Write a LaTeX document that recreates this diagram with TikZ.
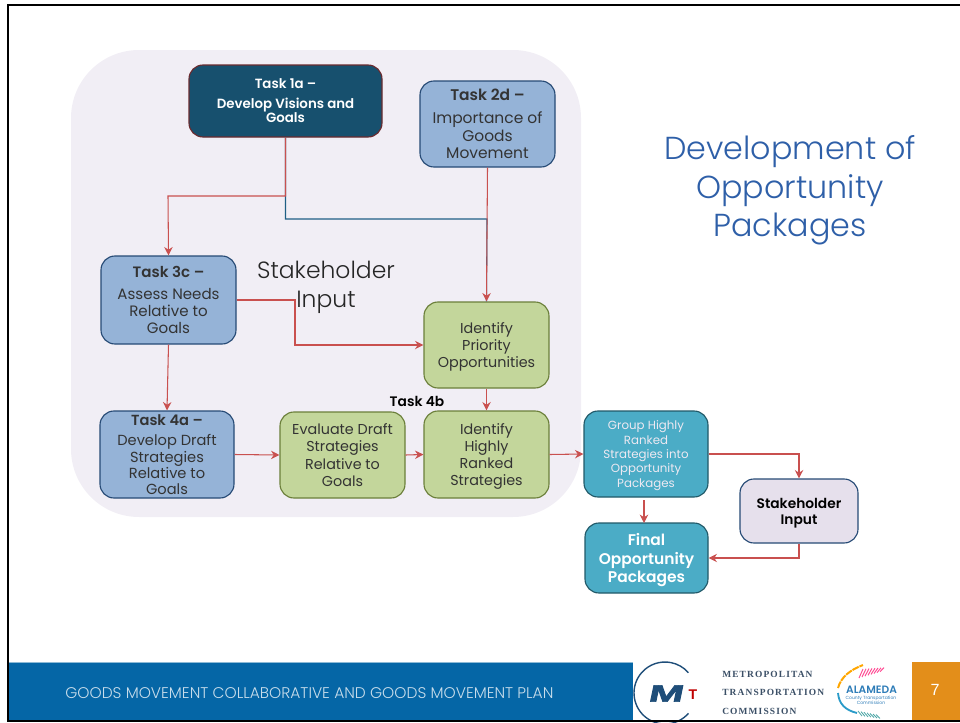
\documentclass[tikz,border=0pt]{standalone}
\usepackage{fontspec}
\setmainfont{Poppins}[BoldFont={Poppins SemiBold}]
\newfontfamily\lightfont{Poppins Light}
\newfontfamily\logofont[LetterSpace=12]{Liberation Serif}
\newfontfamily\numfont{Liberation Sans}
\newfontfamily\markfont[FakeBold=2.5,FakeSlant=0.12]{Liberation Sans Bold}
\usetikzlibrary{arrows.meta}

\definecolor{panelgray}{HTML}{F1EEF5}
\definecolor{taskdark}{HTML}{17506E}
\definecolor{taskdarkline}{HTML}{6B2A2E}
\definecolor{taskblue}{HTML}{95B3D7}
\definecolor{taskblueline}{HTML}{264A75}
\definecolor{taskgreen}{HTML}{C3D69B}
\definecolor{taskgreenline}{HTML}{6B7F3A}
\definecolor{taskteal}{HTML}{4BACC6}
\definecolor{tasktealline}{HTML}{215968}
\definecolor{tasklilac}{HTML}{E6E0EC}
\definecolor{linkred}{HTML}{C9504F}
\definecolor{linkblue}{HTML}{1F5F85}
\definecolor{titleblue}{HTML}{2E5FA8}
\definecolor{footerblue}{HTML}{0566A6}
\definecolor{footerline}{HTML}{8DBAD6}
\definecolor{footertext}{HTML}{C8DDEB}
\definecolor{pageorange}{HTML}{E38E1A}
\definecolor{logonavy}{HTML}{1F4E79}
\definecolor{logotext}{HTML}{3B4F66}
\definecolor{logoalameda}{HTML}{2F7DB8}

\tikzset{
    size/.style 2 args={minimum width=#1*0.025cm, minimum height=#2*0.025cm},
    box/.style={draw, rounded corners=0.35cm, line width=0.8pt, align=center, inner sep=0pt,
        text depth=0pt, text=black!80, font=\fontsize{10.2}{12.2}\selectfont},
    darkbox/.style={box, fill=taskdark, draw=taskdarkline, text=white, font=\fontsize{9.5}{10.6}\selectfont},
    bluebox/.style={box, fill=taskblue, draw=taskblueline},
    greenbox/.style={box, fill=taskgreen, draw=taskgreenline},
    tealbox/.style={box, fill=taskteal, draw=tasktealline},
    lilacbox/.style={box, fill=tasklilac, draw=taskblueline, text=black, font=\fontsize{9.8}{11.4}\selectfont\bfseries},
    link/.style={draw=linkred, line width=0.75pt, -{Stealth[length=6pt, width=6pt]}},
    logoline/.style={font=\logofont\bfseries\fontsize{6.7}{7}\selectfont, text=logotext, anchor=west, inner sep=0pt},
}

\begin{document}
\begin{tikzpicture}[x=0.025cm, y=-0.025cm]
    \useasboundingbox (0,0) rectangle (960,723);

    % Panel behind the tasks
    \fill[panelgray, rounded corners=1.7cm] (71,50) rectangle (581,517);

    % Tasks
    \node[darkbox, size={193}{72}] (task1a) at (285.5,101) {\textbf{Task 1a --}\\[3pt]\textbf{Develop Visions and}\\\textbf{Goals}};
    \node[bluebox, size={135}{86}, font=\fontsize{11}{12.4}\selectfont] (task2d) at (487.5,124) {\textbf{Task 2d --}\\[4pt]Importance of\\Goods\\Movement};
    \node[bluebox, size={135}{88}, font=\fontsize{10.7}{12}\selectfont] (task3c) at (168.5,300) {\textbf{Task 3c --}\\[4pt]Assess Needs\\Relative to\\Goals};
    \node[bluebox, size={134}{87}, font=\fontsize{10.4}{11.6}\selectfont] (task4a) at (167,454.5) {\textbf{Task 4a --}\\[3pt]Develop Draft\\Strategies\\Relative to\\Goals};
    \node[greenbox, size={125}{86}] (priority) at (486.5,345) {Identify\\Priority\\Opportunities};
    \node[greenbox, size={125}{86}] (evaluate) at (342.5,455) {Evaluate Draft\\Strategies\\Relative to\\Goals};
    \node[greenbox, size={125}{87}] (ranked) at (486.5,454.5) {Identify\\Highly\\Ranked\\Strategies};
    \node[tealbox, size={124}{86}, text=tasklilac!70!white, font=\fontsize{8.4}{10.3}\selectfont] (group) at (646,454) {Group Highly\\Ranked\\Strategies into\\Opportunity\\Packages};
    \node[tealbox, size={123}{70}, text=white, font=\fontsize{11}{13.4}\selectfont\bfseries] (final) at (646.5,558) {Final\\Opportunity\\Packages};
    \node[lilacbox, size={118}{64}] (stakebox) at (799,511) {Stakeholder\\Input};

    % Free labels
    \node[font=\fontsize{9.8}{11}\selectfont\bfseries, text=black] (label4b) at (417,401) {Task 4b};
    \node[font=\lightfont\fontsize{16.7}{20.5}\selectfont, align=center, text=black!85] (stakelabel) at (326,287.5) {Stakeholder\\Input};
    \node[font=\lightfont\fontsize{22.6}{27.4}\selectfont, align=center, text=titleblue] (title) at (790,190.5) {Development of\\Opportunity\\Packages};

    % Bends of the links
    \coordinate (bend1a) at (168,196);
    \coordinate (bendblue) at (487,219);
    \coordinate (bend3c) at (295,300);
    \coordinate (bendprio) at (295,345);
    \coordinate (bendgroup) at (799,454);
    \coordinate (bendstake) at (799,558);
    \coordinate (groupout) at (644,500);
    \coordinate (finalin) at (644,523);

    % Links
    \draw[linkblue, line width=0.75pt] (task1a.south) |- (bendblue) -- (priority.north);
    \draw[link] (task1a.south) |- (bend1a) -- (task3c.north);
    \draw[link] (task2d.south) -- (priority.north);
    \draw[link] (task3c.east) -- (bend3c) -- (bendprio) -- (priority.west);
    \draw[link] (task3c.south) -- (task4a.north);
    \draw[link] (task4a.east) -- (evaluate.west);
    \draw[link] (evaluate.east) -- (ranked.west);
    \draw[link] (priority.south) -- (ranked.north);
    \draw[link] (ranked.east) -- (group.west);
    \draw[link] (groupout) -- (finalin);
    \draw[link] (group.east) -- (bendgroup) -- (stakebox.north);
    \draw[link] (stakebox.south) -- (bendstake) -- (final.east);

    % Footer
    \fill[footerblue] (8,663) rectangle (633,720);
    \draw[footerline, line width=0.8pt] (8,662.5) -- (633,662.5);
    \fill[pageorange] (912,662) rectangle (960,720);
    \node[font=\lightfont\fontsize{11}{12}\selectfont, text=footertext, anchor=west, inner sep=0pt] (footer) at (65,693.5) {GOODS MOVEMENT COLLABORATIVE AND GOODS MOVEMENT PLAN};
    \node[font=\numfont\fontsize{11.5}{13}\selectfont, text=white] (pagenum) at (935,690) {7};

    % MTC logo
    \draw[logonavy, line width=1pt] (665,693) ++(41:31) arc (41:319:31);
    \node[font=\markfont\fontsize{16.8}{17}\selectfont, text=logonavy, inner sep=0pt] (logom) at (665,693.5) {\scalebox{1.75}[1]{M}};
    \node[font=\numfont\bfseries\fontsize{10}{10}\selectfont, text=red!75!black, inner sep=0pt] (logot) at (693,695) {T};
    \node[logoline] (logo1) at (722,674.5) {METROPOLITAN};
    \node[logoline] (logo2) at (722,692.5) {TRANSPORTATION};
    \node[logoline] (logo3) at (722,711.5) {COMMISSION};

    % Alameda logo
    \draw[orange!70!yellow, line width=1.4pt, dash pattern=on 5pt off 0.6pt] (838,688) .. controls (841,677) and (850,670) .. (863,665);
    \foreach \i in {0,1,...,7} {
        \draw[red!60!magenta!70!white, line width=0.7pt] (859+\i*3,678-\i*0.9) -- (863+\i*3,669-\i*0.2);
    }
    \node[font=\bfseries\fontsize{7.6}{8}\selectfont, text=logoalameda, inner sep=0pt] (alameda) at (871.5,690) {ALAMEDA};
    \node[font=\fontsize{3.2}{3.6}\selectfont, align=center, text=logoalameda, inner sep=0pt] (alamedasub) at (871,700) {County Transportation\\Commission};
    \draw[cyan!60!teal, line width=1.3pt] (838,693) .. controls (839,704) and (845,710) .. (857,713);
    \foreach \i in {0,1,...,6} {
        \draw[teal!70, line width=0.6pt] (858+\i*3,711+\i*0.6) -- (862+\i*3,716+\i*0.4);
    }

    % Frame
    \draw[black, line width=1.7pt] (960,5) -- (8,5) -- (8,721) -- (960,721);
\end{tikzpicture}
\end{document}
